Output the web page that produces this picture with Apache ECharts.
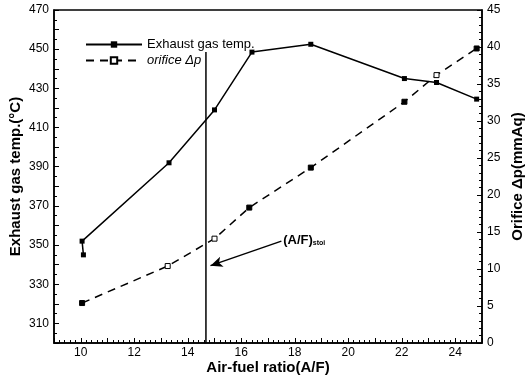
<!DOCTYPE html>
<html>
<head>
<meta charset="utf-8">
<script src="https://cdn.jsdelivr.net/npm/echarts@6/dist/echarts.min.js"></script>
<style>
    html, body { margin: 0; padding: 0; background: #fff; }
    #chart { width: 530px; height: 378px; }
</style>
</head>
<body>
<div id="chart"></div>
<script>
// exhaust gas temperature (left axis), points in drawing order
var tempAF = [10.1, 10.05, 13.3, 15.0, 16.4, 18.6, 22.1, 23.3, 24.8]
var tempValue = [345, 352, 392, 419, 448.5, 452.5, 435, 433, 424.5]
// orifice pressure drop (right axis)
var dpAF = [10.05, 13.25, 15.0, 16.3, 18.6, 22.1, 23.3, 24.8]
var dpValue = [5.4, 10.4, 14.1, 18.3, 23.7, 32.6, 36.2, 39.8]
var dpFilled = [true, false, false, true, true, true, false, true]
// stoichiometric marker
var stoiAF = 14.68
var stoiTemp = [300, 448.5]
var arrowFrom = [17.5, 352]
var arrowTo = [14.85, 339.5]

var chart = echarts.init(document.getElementById('chart'))

var font = 'Arial, "Liberation Sans", sans-serif'

var options = {
    animation: false,
    textStyle: { fontFamily: font },
    grid: {
        left: 54,
        right: 48,
        top: 10,
        bottom: 35,
        outerBoundsMode: 'none',
        containLabel: false,
        show: true,
        borderColor: '#000',
        borderWidth: 1.5,
    },
    legend: {
        left: 80,
        top: 33,
        orient: 'vertical',
        itemWidth: 56,
        itemHeight: 8,
        itemGap: 3,
        data: ['Exhaust gas temp.', 'orifice Δp'],
        formatter: function (name) {
            return name === 'orifice Δp' ? '{i|' + name + '}' : name
        },
        textStyle: {
            color: '#000',
            fontSize: 13,
            fontFamily: font,
            rich: { i: { fontStyle: 'italic', fontSize: 13, fontFamily: font } },
        },
    },
    xAxis: {
        type: 'value',
        min: 9,
        max: 25,
        interval: 1,
        name: 'Air-fuel ratio(A/F)',
        nameLocation: 'middle',
        nameGap: 17,
        nameMoveOverlap: false,
        nameTextStyle: { color: '#000', fontWeight: 'bold', fontSize: 15 },
        axisLine: { show: true, lineStyle: { color: '#000', width: 1.5 } },
        axisTick: { inside: true, length: 5, lineStyle: { color: '#000' } },
        minorTick: { show: true, splitNumber: 5, length: 3, lineStyle: { color: '#000' } },
        splitLine: { show: false },
        axisLabel: {
            color: '#000',
            fontSize: 12,
            margin: 4,
            formatter: function (v) { return v % 2 === 0 ? v : '' },
        },
    },
    yAxis: [
        {
            type: 'value',
            min: 300,
            max: 470,
            interval: 10,
            name: 'Exhaust gas temp.(°C)',
            nameLocation: 'middle',
            nameGap: 31,
            nameMoveOverlap: false,
            nameRotate: 90,
            nameTextStyle: { color: '#000', fontWeight: 'bold', fontSize: 15 },
            axisLine: { show: true, lineStyle: { color: '#000', width: 1.5 } },
            axisTick: { inside: true, length: 5, lineStyle: { color: '#000' } },
            minorTick: { show: true, splitNumber: 2, length: 3, lineStyle: { color: '#000' } },
            splitLine: { show: false },
            axisLabel: {
                color: '#000',
                fontSize: 12,
                margin: 5,
                formatter: function (v) { return (v - 310) % 20 === 0 ? v : '' },
            },
        },
        {
            type: 'value',
            min: 0,
            max: 45,
            interval: 5,
            name: 'Orifice Δp(mmAq)',
            nameLocation: 'middle',
            nameGap: 28,
            nameMoveOverlap: false,
            nameRotate: 90,
            nameTextStyle: { color: '#000', fontWeight: 'bold', fontSize: 15 },
            axisLine: { show: true, lineStyle: { color: '#000', width: 1.5 } },
            axisTick: { inside: true, length: 5, lineStyle: { color: '#000' } },
            minorTick: { show: true, splitNumber: 5, length: 3, lineStyle: { color: '#000' } },
            splitLine: { show: false },
            axisLabel: { color: '#000', fontSize: 12, margin: 5 },
        },
    ],
    series: [
        {
            name: 'Exhaust gas temp.',
            type: 'line',
            yAxisIndex: 0,
            symbol: 'rect',
            symbolSize: 5,
            itemStyle: { color: '#000' },
            lineStyle: { color: '#000', width: 1.5 },
            data: tempAF.map(function (x, i) { return [x, tempValue[i]] }),
            markLine: {
                silent: true,
                symbol: ['none', 'arrow'],
                symbolSize: [8, 12],
                lineStyle: { color: '#000', width: 1.5, type: 'solid' },
                label: {
                    show: true,
                    position: 'start',
                    distance: 2,
                    align: 'left',
                    verticalAlign: 'middle',
                    color: '#000',
                    formatter: '{a|(A/F)}{s|stoi}',
                    rich: {
                        a: { fontWeight: 'bold', fontSize: 13, color: '#000', verticalAlign: 'middle' },
                        s: { fontWeight: 'bold', fontSize: 7, color: '#000', verticalAlign: 'bottom' },
                    },
                },
                data: [[{ coord: arrowFrom }, { coord: arrowTo }]],
            },
        },
        {
            name: 'orifice Δp',
            type: 'line',
            yAxisIndex: 1,
            symbol: 'rect',
            symbolSize: 5,
            itemStyle: { color: '#fff', borderColor: '#000', borderWidth: 1 },
            lineStyle: { color: '#000', width: 1.5, type: [8, 6] },
            data: dpAF.map(function (x, i) {
                return {
                    value: [x, dpValue[i]],
                    itemStyle: { color: dpFilled[i] ? '#000' : '#fff' },
                }
            }),
        },
        {
            name: 'stoi',
            type: 'line',
            yAxisIndex: 0,
            symbol: 'none',
            lineStyle: { color: '#000', width: 1.5 },
            data: [[stoiAF, stoiTemp[0]], [stoiAF, stoiTemp[1]]],
        },
    ],
}

chart.setOption(options)
</script>
</body>
</html>
